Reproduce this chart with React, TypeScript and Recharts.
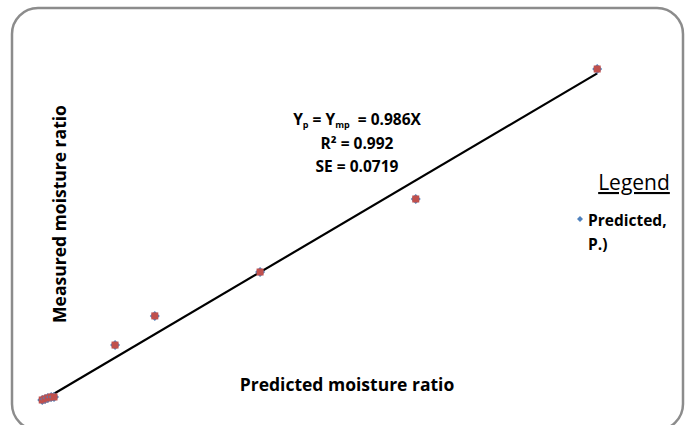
import React from "react";
import { ScatterChart, Scatter, XAxis, YAxis } from "recharts";

// predicted (x) vs measured (y) moisture ratio
const predicted = [0.004, 0.009, 0.014, 0.02, 0.025, 0.134, 0.205, 0.393, 0.671, 0.995];
const measured = [0.006, 0.009, 0.012, 0.015, 0.015, 0.17, 0.257, 0.388, 0.606, 0.994];

const slope = 0.986;
const fitRange = [0.006, 0.995];

const points = predicted.map((x, i) => ({ x, y: measured[i] }));
const fitLine = fitRange.map((x) => ({ x, y: slope * x }));

const W = 689;
const H = 425;
const font = "'Open Sans', sans-serif";

const Marker = (props: any) => {
  const { cx, cy } = props;
  if (cx == null || cy == null) return null;
  return (
    <g>
      <path d={`M${cx},${cy - 5} L${cx + 5},${cy} L${cx},${cy + 5} L${cx - 5},${cy} Z`} fill="#4f81bd" />
      <rect x={cx - 3.5} y={cy - 3.5} width={7} height={7} fill="#c0504d" />
    </g>
  );
};

export default function App() {
  return (
    <div style={{ position: "fixed", left: 0, top: 0, width: W, height: H, background: "#fff" }}>
      <ScatterChart width={W} height={H} margin={{ top: 67, right: 89, bottom: 23, left: 40 }}>
        <XAxis type="number" dataKey="x" domain={[0, 1]} hide />
        <YAxis type="number" dataKey="y" domain={[0, 1]} hide />
        <Scatter data={fitLine} line={{ stroke: "#000", strokeWidth: 2.2 }} shape={() => null} isAnimationActive={false} />
        <Scatter data={points} shape={Marker} isAnimationActive={false} />
      </ScatterChart>
      <svg width={W} height={H} style={{ position: "absolute", left: 0, top: 0, pointerEvents: "none" }}>
        <rect x={12} y={8} width={671} height={422} rx={26} fill="none" stroke="#8c8c8c" strokeWidth={2.5} />
        <g fontFamily={font} fontWeight="bold" fill="#000" textAnchor="middle">
          <text x={357} y={125} fontSize={15.5} style={{ whiteSpace: "pre" }}>
            Y<tspan fontSize={9} dy={3}>p</tspan>
            <tspan dy={-3}> = Y</tspan>
            <tspan fontSize={9} dy={3}>mp</tspan>
            <tspan dy={-3}>{"  = 0.986X"}</tspan>
          </text>
          <text x={357} y={149} fontSize={15.5}>R² = 0.992</text>
          <text x={357} y={172} fontSize={15.5}>SE = 0.0719</text>
          <text x={347} y={391} fontSize={17.5}>Predicted moisture ratio</text>
          <text x={0} y={0} fontSize={17.5} transform="translate(66,214) rotate(-90)">Measured moisture ratio</text>
        </g>
        <text x={634} y={190} fontFamily={font} fontSize={21} textAnchor="middle" textDecoration="underline">Legend</text>
        <path d="M580,216 L583,219 L580,222 L577,219 Z" fill="#4f81bd" />
        <g fontFamily={font} fontWeight="bold" fontSize={15.5} fill="#000">
          <text x={588} y={226}>Predicted,</text>
          <text x={588} y={250}>P.)</text>
        </g>
      </svg>
    </div>
  );
}
